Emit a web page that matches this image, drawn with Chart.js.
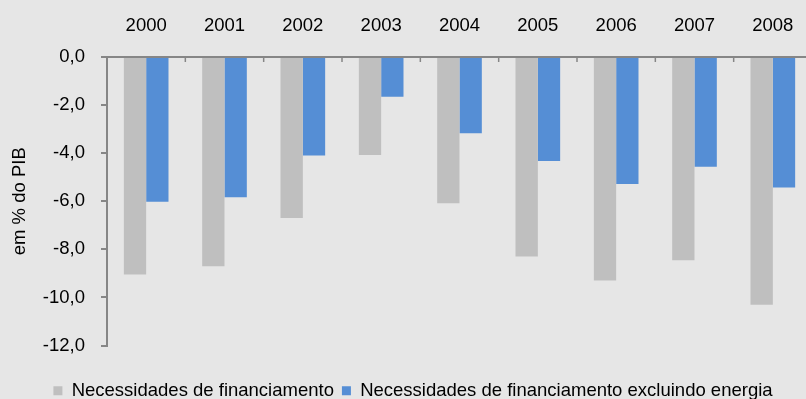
<!DOCTYPE html>
<html lang="pt">
<head>
    <meta charset="UTF-8">
    <title>Necessidades de financiamento</title>
    <script src="https://cdn.jsdelivr.net/npm/chart.js@4"></script>
    <style>
        html, body { margin: 0; padding: 0; background: #e6e6e6; overflow: hidden; }
        /* o canvas é um pouco maior que a janela; o excesso fica cortado */
        #wrap { position: relative; width: 812px; height: 410px; }
    </style>
</head>
<body>
    <div id="wrap">
        <canvas id="grafico"></canvas>
    </div>

    <script>
        // Dados (em % do PIB)
        const anos = ['2000', '2001', '2002', '2003', '2004', '2005', '2006', '2007', '2008'];
        const necessidades = [-9.05, -8.70, -6.70, -4.08, -6.08, -8.30, -9.30, -8.45, -10.30];
        const excluindoEnergia = [-6.02, -5.83, -4.10, -1.65, -3.17, -4.33, -5.28, -4.57, -5.43];
        const yTicks = [-12, -10, -8, -6, -4, -2, 0];

        const corEixo = '#868686';
        const fonte = { family: "'Liberation Sans', Arial, sans-serif", size: 18.5 };

        // marcas pequenas entre as categorias, viradas para dentro do gráfico
        const marcasX = {
            id: 'marcasX',
            afterDraw(chart) {
                const x = chart.scales.x;
                const ctx = chart.ctx;
                const topo = chart.chartArea.top;
                ctx.save();
                ctx.strokeStyle = corEixo;
                ctx.lineWidth = 1.5;
                for (let i = 1; i < anos.length; i++) {
                    const px = (x.getPixelForValue(i - 1) + x.getPixelForValue(i)) / 2;
                    ctx.beginPath();
                    ctx.moveTo(px, topo);
                    ctx.lineTo(px, topo + 5);
                    ctx.stroke();
                }
                ctx.restore();
            }
        };

        Chart.defaults.font.family = fonte.family;
        Chart.defaults.color = '#000';

        new Chart(document.getElementById('grafico'), {
            type: 'bar',
            data: {
                labels: anos,
                datasets: [{
                    label: 'Necessidades de financiamento',
                    data: necessidades,
                    backgroundColor: '#bfbfbf',
                    barPercentage: 1,
                    categoryPercentage: 0.57
                }, {
                    label: 'Necessidades de financiamento excluindo energia',
                    data: excluindoEnergia,
                    backgroundColor: '#558ed5',
                    barPercentage: 1,
                    categoryPercentage: 0.57
                }]
            },
            options: {
                responsive: true,
                maintainAspectRatio: false,
                animation: false,
                layout: { padding: { left: 14, top: 0, right: 0, bottom: 0 } },
                plugins: {
                    tooltip: { enabled: false },
                    legend: {
                        position: 'bottom',
                        labels: {
                            font: fonte,
                            color: '#000',
                            boxWidth: 9,
                            boxHeight: 9,
                            padding: 8
                        },
                        title: {
                            display: true,
                            text: ' ',
                            font: { size: 10 },
                            padding: { top: 8, bottom: 8 }
                        }
                    }
                },
                scales: {
                    x: {
                        position: 'top',
                        grid: { display: false },
                        border: { display: true, color: corEixo, width: 2 },
                        ticks: { font: fonte, color: '#000', padding: 12 },
                        afterFit(scale) { scale.height = 57; }
                    },
                    y: {
                        min: -12,
                        max: 0,
                        afterBuildTicks(scale) {
                            scale.ticks = yTicks.map(v => ({ value: v }));
                        },
                        grid: {
                            drawOnChartArea: false,
                            drawTicks: true,
                            tickLength: 6,
                            color: corEixo,
                            lineWidth: 2
                        },
                        border: { display: true, color: corEixo, width: 2 },
                        ticks: {
                            font: fonte,
                            color: '#000',
                            padding: 16,
                            callback: v => v.toFixed(1).replace('.', ',')
                        },
                        title: {
                            display: true,
                            text: 'em % do PIB',
                            font: fonte,
                            color: '#000',
                            padding: { top: -5, bottom: 0 }
                        },
                        afterFit(scale) { scale.width = 93; }
                    }
                }
            },
            plugins: [marcasX]
        });
    </script>
</body>
</html>
